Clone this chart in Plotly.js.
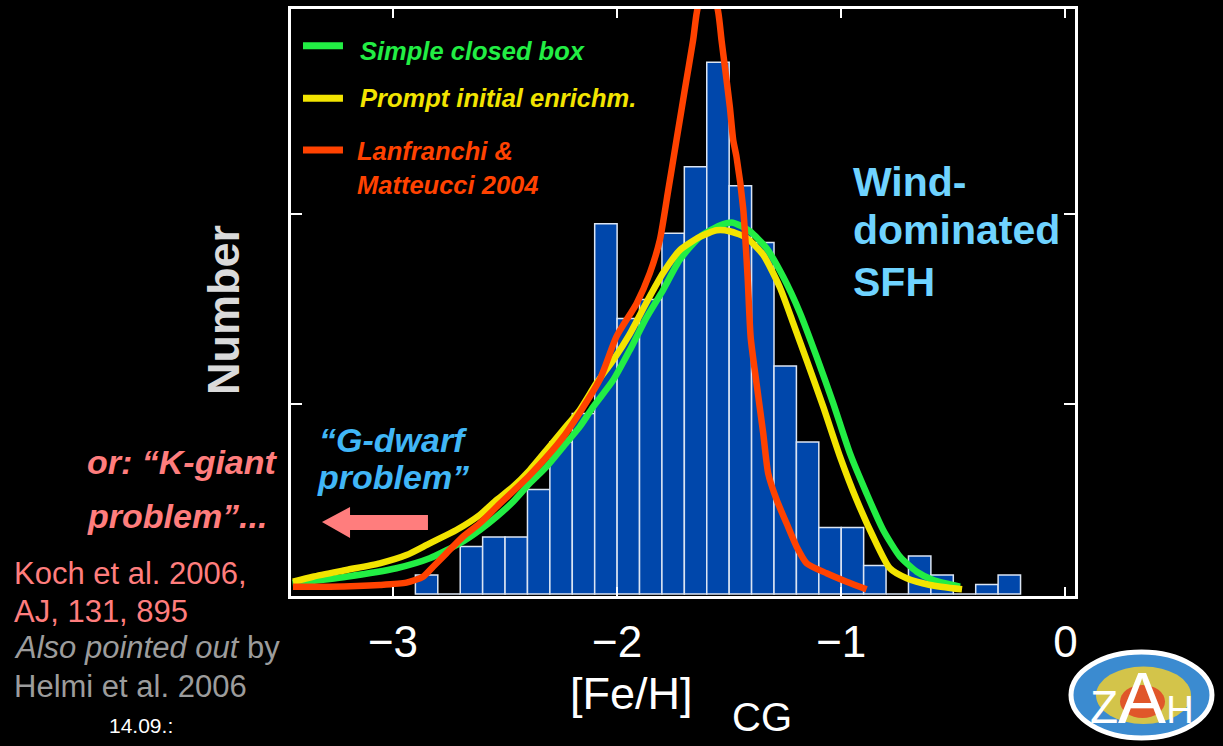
<!DOCTYPE html>
<html>
<head>
<meta charset="utf-8">
<script src="https://cdn.plot.ly/plotly-3.0.1.min.js"></script>
<style>
  html, body { margin: 0; padding: 0; background: #000; }
  #chart { width: 1223px; height: 746px; }
</style>
</head>
<body>
<div id="chart"></div>
<script>
// Metallicity distribution of Carina red giants, [Fe/H] on the CG scale, 0.1 dex bins
const binCenters = [-2.85, -2.75, -2.65, -2.55, -2.45, -2.35, -2.25, -2.15, -2.05, -1.95,
                    -1.85, -1.75, -1.65, -1.55, -1.45, -1.35, -1.25, -1.15, -1.05, -0.95,
                    -0.85, -0.75, -0.65, -0.55, -0.45, -0.35, -0.25];
const binCounts  = [2, 0, 5, 6, 6, 11, 16, 19, 39, 29,
                    31, 38, 45, 56, 43, 37, 24, 16, 7, 7,
                    3, 0, 4, 2, 0, 1, 2];

// Simple closed-box model
const closedBoxFeH = [-3.448, -3.208, -2.985, -2.836, -2.702, -2.613, -2.538, -2.464, -2.390, -2.315,
                      -2.241, -2.167, -2.107, -2.018, -1.943, -1.869, -1.795, -1.720, -1.631, -1.542,
                      -1.483, -1.408, -1.333, -1.259, -1.184, -1.110, -1.036, -0.961, -0.887, -0.813,
                      -0.738, -0.663, -0.589, -0.470];
const closedBoxN   = [1.13, 1.82, 2.71, 3.76, 5.34, 6.74, 8.14, 9.72, 11.65, 13.4,
                      15.5, 17.6, 19.7, 22.5, 25.7, 29.1, 32.0, 35.2, 37.6, 38.8,
                      39.1, 38.2, 36.4, 33.4, 29.6, 25.0, 20.1, 14.8, 10.6, 6.74,
                      3.93, 2.35, 1.47, 0.77];

// Prompt initial enrichment model
const promptFeH = [-3.446, -3.357, -3.208, -3.059, -2.940, -2.836, -2.717, -2.613, -2.538, -2.464,
                   -2.390, -2.315, -2.241, -2.167, -2.092, -2.018, -1.943, -1.869, -1.795, -1.720,
                   -1.631, -1.556, -1.497, -1.422, -1.348, -1.274, -1.214, -1.154, -1.080, -1.006,
                   -0.931, -0.857, -0.783, -0.708, -0.604, -0.461];
const promptN   = [1.29, 1.82, 2.53, 3.23, 4.1, 5.34, 6.74, 8.32, 9.89, 11.3,
                   13.05, 15.16, 17.26, 19.37, 22.2, 24.6, 27.4, 30.7, 33.8, 36.2,
                   37.6, 38.3, 38.2, 37.5, 35.7, 32.3, 28.5, 24.6, 19.7, 14.5,
                   9.9, 6.0, 2.7, 1.65, 0.95, 0.49];

// Lanfranchi & Matteucci (2004) chemical evolution model
const lmFeH = [-3.446, -3.283, -3.059, -2.940, -2.866, -2.821, -2.762, -2.688, -2.613, -2.538,
               -2.390, -2.241, -2.079, -2.003, -1.913, -1.854, -1.809, -1.772, -1.735, -1.698,
               -1.661, -1.644, -1.597, -1.549, -1.534, -1.519, -1.497, -1.482, -1.467, -1.4375,
               -1.418, -1.404, -1.378, -1.348, -1.326, -1.288, -1.244, -1.199, -1.154, -1.065,
               -0.976, -0.887];
const lmN   = [0.77, 0.77, 0.95, 1.19, 1.82, 2.87, 4.28, 6.03, 7.44, 9.16,
               12.5, 16.5, 22.5, 27.1, 30.6, 33.8, 37.3, 42.5, 47.8, 53.1,
               58.3, 61.3, 65.7, 61.3, 58.3, 55.5, 51.3, 47.8, 46.0, 40.6,
               33.5, 27.0, 22.2, 16.9, 12.7, 9.9, 7.44, 4.98, 3.23, 2.18,
               1.29, 0.49];

const xTickVals = [-3, -2, -1, 0];
const xTickText = ['\u22123', '\u22122', '\u22121', '0'];
const yTickVals = [20, 40];

const seriesNames = ['Simple closed box', 'Prompt initial enrichm.', 'Lanfranchi & Matteucci 2004'];
const GREEN = '#22ee44', YELLOW = '#f2e400', RED = '#ff4200';
const SALMON = '#ff7d7d', SKY = '#6fd3ff', BLUE_TXT = '#40b6f6', GREY = '#9c9c9c';
const FONT = 'Liberation Sans, Arial, Helvetica, sans-serif';

const traces = [
  {
    type: 'bar', x: binCenters, y: binCounts, width: 0.1,
    marker: { color: '#0047ab', line: { color: '#dbe5f3', width: 1.5 } },
    showlegend: false, hoverinfo: 'x+y'
  },
  {
    type: 'scatter', mode: 'lines', name: seriesNames[0], x: closedBoxFeH, y: closedBoxN,
    line: { color: GREEN, width: 6.5, shape: 'spline', smoothing: 0.6 }, showlegend: false
  },
  {
    type: 'scatter', mode: 'lines', name: seriesNames[1], x: promptFeH, y: promptN,
    line: { color: YELLOW, width: 6.5, shape: 'spline', smoothing: 0.6 }, showlegend: false
  },
  {
    type: 'scatter', mode: 'lines', name: seriesNames[2], x: lmFeH, y: lmN,
    line: { color: RED, width: 6.5, shape: 'spline', smoothing: 0.6 }, showlegend: false
  }
];

// paper-coordinate helpers for the slide text around the chart
function note(text, x, y, size, color, opts) {
  return Object.assign({
    text: text, x: x, y: y, xref: 'paper', yref: 'paper',
    xanchor: 'left', yanchor: 'middle', showarrow: false,
    font: { family: FONT, size: size, color: color }
  }, opts || {});
}
const bi = { weight: 'bold', style: 'italic' };
function boldItalic(a) { Object.assign(a.font, bi); return a; }
function bold(a) { a.font.weight = 'bold'; return a; }

const annotations = [
  // key
  boldItalic(note(seriesNames[0], 0.0855, 0.9284, 25.5, GREEN)),
  boldItalic(note(seriesNames[1], 0.0855, 0.8484, 25.5, YELLOW)),
  boldItalic(note('Lanfranchi &', 0.0816, 0.7581, 25.5, RED)),
  boldItalic(note('Matteucci 2004', 0.0816, 0.7002, 25.5, RED)),
  // star-formation history label
  bold(note('Wind-', 0.7143, 0.7047, 41, SKY)),
  bold(note('dominated', 0.7143, 0.6235, 41, SKY)),
  bold(note('SFH', 0.7143, 0.5344, 41, SKY)),
  // G-dwarf problem
  boldItalic(note('\u201cG-dwarf', 0.0328, 0.2666, 34, BLUE_TXT)),
  boldItalic(note('problem\u201d', 0.0306, 0.2025, 34, BLUE_TXT)),
  boldItalic(note('or: \u201cK-giant', -0.2628, 0.2286, 34, SALMON)),
  boldItalic(note('problem\u201d...', -0.2628, 0.1366, 34, SALMON)),
  // references
  note('Koch et al. 2006,', -0.3559, 0.0383, 31, SALMON),
  note('AJ, 131, 895', -0.3559, -0.0259, 31, SALMON),
  note('<i>Also pointed out</i> by', -0.3559, -0.0877, 31, GREY),
  note('Helmi et al. 2006', -0.3559, -0.1537, 31, GREY),
  note('14.09.:', -0.2347, -0.2208, 21, '#ffffff'),
  // axis labels
  bold(note('Number', -0.0867, 0.4872, 45, '#dadada', { xanchor: 'center', textangle: -90 })),
  note('[Fe/H]', 0.4349, -0.1660, 45, '#ffffff', { xanchor: 'center' }),
  note('CG', 0.6008, -0.2060, 40, '#ffffff', { xanchor: 'center' }),
  // institute mark
  note('<span style="font-size:46px">Z</span><span style="font-size:72px">A</span>' +
       '<span style="font-size:38px">H</span>', 1.0855, -0.1738, 46, '#ffffff', { xanchor: 'center' })
];

function keyLine(y, color) {
  return { type: 'line', xref: 'paper', yref: 'paper', x0: 0.0153, x1: 0.0663, y0: y, y1: y,
           line: { color: color, width: 7 } };
}

const shapes = [
  keyLine(0.9375, GREEN),
  keyLine(0.8479, YELLOW),
  keyLine(0.7598, RED),
  // arrow pointing to low metallicity
  { type: 'path', xref: 'paper', yref: 'paper', fillcolor: SALMON, line: { width: 0 },
    path: 'M0.0395,0.1261 L0.0753,0.1516 L0.0753,0.138 L0.1747,0.138 L0.1747,0.1124 L0.0753,0.1124 L0.0753,0.0988 Z' },
  // institute mark background
  { type: 'circle', xref: 'paper', yref: 'paper', x0: 0.9949, x1: 1.1747, y0: -0.2419, y1: -0.0954,
    fillcolor: '#3b8bd0', line: { color: '#ffffff', width: 5 } },
  { type: 'circle', xref: 'paper', yref: 'paper', x0: 1.0268, x1: 1.1480, y0: -0.2180, y1: -0.1200,
    fillcolor: '#d3c44a', line: { width: 0 } },
  { type: 'circle', xref: 'paper', yref: 'paper', x0: 1.0574, x1: 1.1148, y0: -0.2078, y1: -0.1516,
    fillcolor: '#e0562a', line: { width: 0 } }
];

const layout = {
  width: 1223, height: 746,
  paper_bgcolor: '#000000', plot_bgcolor: '#000000',
  margin: { l: 291, r: 148, t: 9, b: 150 },
  showlegend: false,
  bargap: 0,
  font: { family: FONT, color: '#ffffff' },
  xaxis: {
    range: [-3.455, 0.043], tickvals: xTickVals, ticktext: xTickText,
    ticks: 'inside', ticklen: 9, tickwidth: 2, tickcolor: '#ffffff',
    showline: true, linecolor: '#ffffff', linewidth: 3, mirror: 'ticks',
    showgrid: false, zeroline: false,
    tickfont: { family: FONT, size: 44, color: '#ffffff' }, ticklabelstandoff: 5
  },
  yaxis: {
    range: [-0.21, 61.6], tickvals: yTickVals, showticklabels: false,
    ticks: 'inside', ticklen: 11, tickwidth: 2, tickcolor: '#ffffff',
    showline: true, linecolor: '#ffffff', linewidth: 3, mirror: 'ticks',
    showgrid: false, zeroline: false
  },
  annotations: annotations,
  shapes: shapes
};

Plotly.newPlot('chart', traces, layout, { displayModeBar: false, staticPlot: true });
</script>
</body>
</html>
